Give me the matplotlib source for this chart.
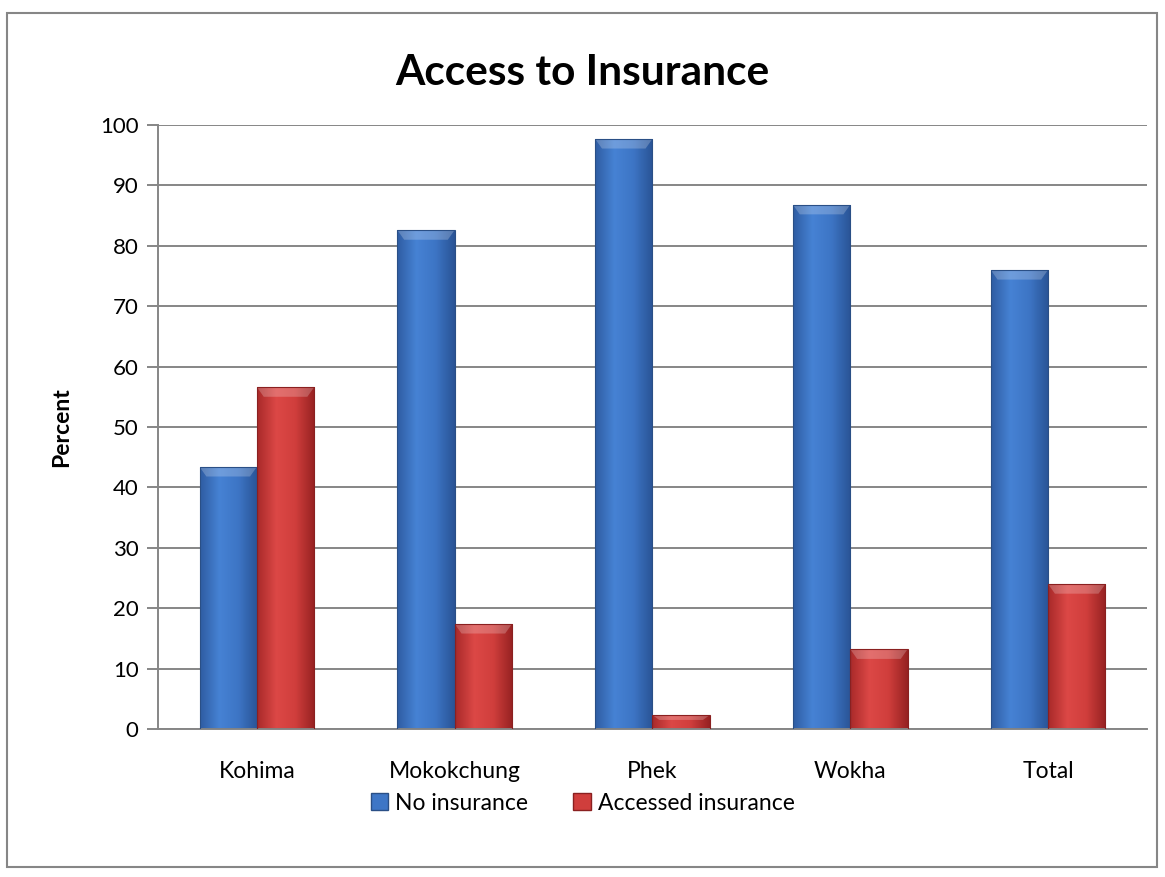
import numpy as np
import matplotlib.pyplot as plt
from matplotlib.patches import Rectangle, Polygon
from matplotlib.colors import LinearSegmentedColormap

districts = ['Kohima', 'Mokokchung', 'Phek', 'Wokha', 'Total']
no_insurance = [43.4, 82.6, 97.7, 86.8, 76.0]
accessed_insurance = [56.6, 17.4, 2.3, 13.2, 24.0]

plt.rcParams['font.family'] = ['Lato', 'DejaVu Sans']

blue_cmap = LinearSegmentedColormap.from_list('b', ['#2f5da3', '#4682d4', '#3d75c5', '#2a5496'])
red_cmap = LinearSegmentedColormap.from_list('r', ['#a92a2a', '#dc4846', '#d03e3c', '#962222'])


def shaded_bars(ax, xs, heights, width, cmap, edge):
    grad = np.linspace(0, 1, 64).reshape(1, -1)
    bars = ax.bar(xs, heights, width, color='none', edgecolor=edge, linewidth=0.8, zorder=3)
    for b in bars:
        x0, y0 = b.get_x(), b.get_y()
        w, h = b.get_width(), b.get_height()
        im = ax.imshow(grad, cmap=cmap, aspect='auto', extent=(x0, x0 + w, y0, y0 + h),
                       zorder=2.5, interpolation='bicubic')
        im.set_clip_path(b)
        # bevelled top edge
        bev = min(1.6, h * 0.35)
        inset = w * 0.12
        top = y0 + h
        ax.add_patch(Polygon([(x0, top), (x0 + w, top), (x0 + w - inset, top - bev),
                              (x0 + inset, top - bev)], closed=True, facecolor='white',
                             alpha=0.22, edgecolor='none', zorder=2.7))
    return bars


fig = plt.figure(figsize=(11.65, 8.77), dpi=100)
ax = fig.add_axes([0.1356, 0.1688, 0.8489, 0.6887])

x = np.arange(len(districts))
width = 0.29
shaded_bars(ax, x - width / 2, no_insurance, width, blue_cmap, '#2a4f86')
shaded_bars(ax, x + width / 2, accessed_insurance, width, red_cmap, '#8a2020')

ax.set_xlim(-0.5, len(districts) - 0.5)
ax.set_ylim(0, 100)
ax.set_yticks(range(0, 101, 10))
ax.yaxis.grid(True, color='#868686', linewidth=1.4)
ax.set_axisbelow(True)
ax.set_xticks(x)
ax.set_xticklabels(districts)
ax.tick_params(axis='x', length=0, pad=23, labelsize=16.5)
ax.tick_params(axis='y', length=8, width=1.4, color='#868686', labelsize=16, pad=6)
for s in ['top', 'right']:
    ax.spines[s].set_visible(False)
for s in ['left', 'bottom']:
    ax.spines[s].set_color('#868686')
    ax.spines[s].set_linewidth(1.4)

ax.set_ylabel('Percent', fontsize=16.5, fontweight='bold', labelpad=20)
fig.text(0.5, 0.917, 'Access to Insurance', ha='center', va='center',
         fontsize=30.5, fontweight='bold')

handles = [Rectangle((0, 0), 1, 1, facecolor='#3e76c6', edgecolor='#2a4f86'),
           Rectangle((0, 0), 1, 1, facecolor='#d03e3c', edgecolor='#8a2020')]
fig.legend(handles, ['No insurance', 'Accessed insurance'], loc='center',
           bbox_to_anchor=(0.5, 0.084), ncol=2, frameon=False, fontsize=16.5,
           handlelength=0.75, handleheight=0.75, handletextpad=0.3, columnspacing=2.0)

# outer chart border
fig.patches.append(Rectangle((7 / 1165, 10 / 877), 1150 / 1165, 854 / 877,
                             transform=fig.transFigure, facecolor='none',
                             edgecolor='#868686', linewidth=1.5))

fig.savefig('out.png', dpi=100)
